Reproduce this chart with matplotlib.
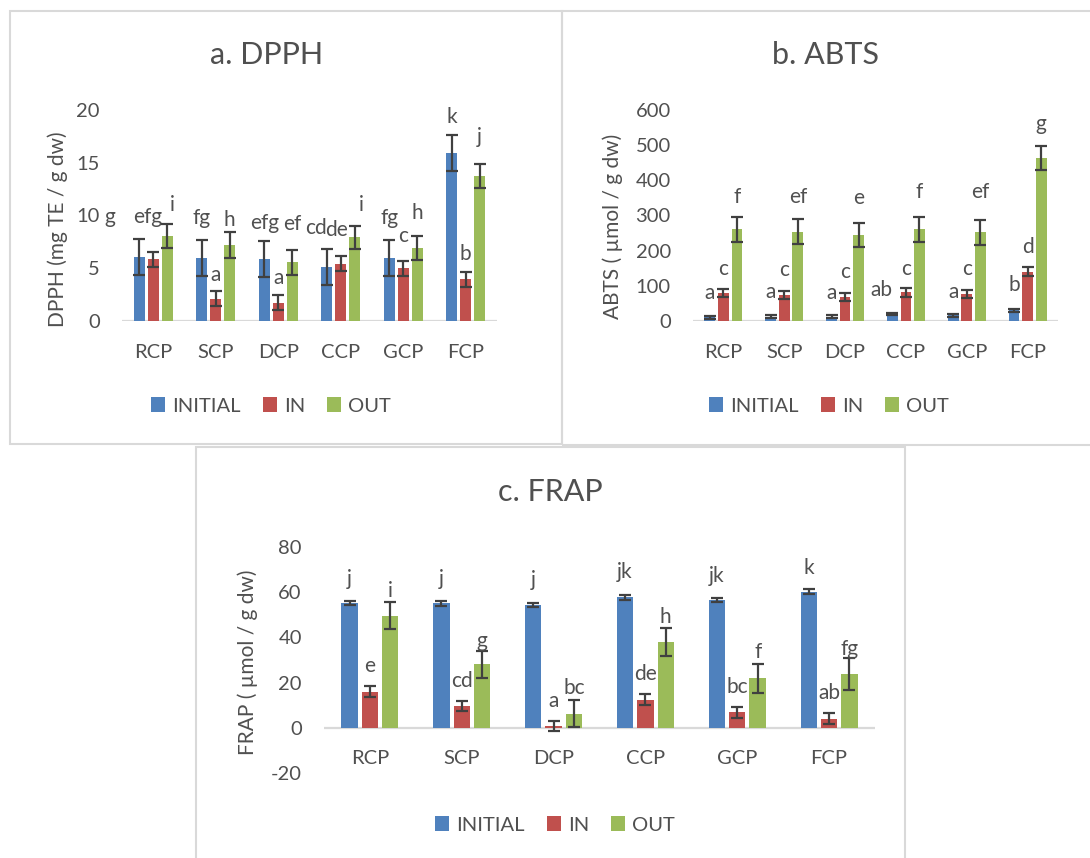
import matplotlib
matplotlib.use('Agg')
import numpy as np
import matplotlib.pyplot as plt
from matplotlib.patches import Rectangle

plt.rcParams['font.family'] = ['Lato', 'DejaVu Sans']
plt.rcParams['axes.unicode_minus'] = False

W, H = 1090, 858

categories = ['RCP', 'SCP', 'DCP', 'CCP', 'GCP', 'FCP']
series_names = ['INITIAL', 'IN', 'OUT']
colors = ['#4F81BD', '#C0504D', '#9BBB59']
TEXT = '#505050'
GRID = '#D9D9D9'

# DPPH (mg TE / g dw)
dpph_initial = [6.1, 5.95, 5.85, 5.15, 5.95, 15.95]
dpph_initial_err = [1.7, 1.7, 1.7, 1.7, 1.7, 1.7]
dpph_in = [5.85, 2.1, 1.75, 5.45, 5.0, 3.95]
dpph_in_err = [0.7, 0.7, 0.7, 0.7, 0.7, 0.7]
dpph_out = [8.05, 7.2, 5.55, 7.95, 6.9, 13.75]
dpph_out_err = [1.15, 1.2, 1.15, 1.1, 1.15, 1.15]
dpph_letters = [['g', 'efg', 'i'], ['fg', 'a', 'h'], ['efg', 'a', 'ef'],
                ['cd', 'de', 'i'], ['fg', 'c', 'h'], ['k', 'b', 'j']]

# ABTS (umol / g dw)
abts_initial = [10, 12, 12, 20, 16, 30]
abts_initial_err = [4, 4, 4, 4, 5, 5]
abts_in = [80, 74, 69, 82, 76, 140]
abts_in_err = [12, 12, 11, 13, 12, 13]
abts_out = [261, 254, 245, 261, 252, 464]
abts_out_err = [35, 35, 35, 35, 35, 35]
abts_letters = [['a', 'c', 'f'], ['a', 'c', 'ef'], ['a', 'c', 'e'],
                ['ab', 'c', 'f'], ['a', 'c', 'ef'], ['b', 'd', 'g']]

# FRAP (umol / g dw)
frap_initial = [55.2, 55.1, 54.4, 57.7, 56.6, 60.3]
frap_initial_err = [1, 1, 1, 1, 1, 1]
frap_in = [15.9, 9.6, 0.8, 12.5, 6.8, 4.0]
frap_in_err = [2.4, 2.2, 2.3, 2.4, 2.4, 2.4]
frap_out = [49.6, 28.1, 6.3, 37.9, 21.9, 23.8]
frap_out_err = [6.1, 5.9, 6.0, 6.1, 6.4, 7.0]
frap_letters = [['j', 'e', 'i'], ['j', 'cd', 'g'], ['j', 'a', 'bc'],
                ['jk', 'de', 'h'], ['jk', 'bc', 'f'], ['k', 'ab', 'fg']]

# letter offsets above the error bar top, in pixels (dx, dy) per group / series
dpph_dx = [[-30, -6, 5], [0, 0, 0], [0, 0, 0], [-11, -4, 7], [0, 0, 0], [0, 0, 0]]
dpph_dy = [[22, 35, 19], [22, 16, 12], [18, 17, 26], [21, 26, 21], [22, 25, 23], [18, 18, 27]]
abts_dx = [[0, 0, 0], [0, 0, 0], [0, 0, 0], [-11, 0, 0], [0, 0, 0], [0, 0, 0]]
abts_dy = [[23, 20, 20], [23, 21, 22], [22, 21, 25], [23, 19, 25], [22, 21, 28], [24, 20, 22]]
frap_dx = [[0, 0, 0]] * 6
frap_dy = [[22, 20, 11], [22, 20, 10], [23, 20, 12], [23, 20, 11], [22, 20, 12], [21, 20, 9]]


def px_rect(x0, y0, x1, y1):
    """Pixel box (top-left origin) to figure fraction rect."""
    return [x0 / W, 1 - y1 / H, (x1 - x0) / W, (y1 - y0) / H]


def draw_panel(fig, box, values, errors, letters, dx, dy, ylim, yticks,
               title, title_xy, ylabel, ylabel_xy, legend_xy):
    ax = fig.add_axes(px_rect(*box))
    x = np.arange(len(categories))
    step, width = 0.222, 0.178
    handles = []
    for k in range(3):
        xs = x + (k - 1) * step
        b = ax.bar(xs, values[k], width, yerr=errors[k], color=colors[k],
                   label=series_names[k], zorder=2,
                   error_kw=dict(ecolor='#404040', elinewidth=1.6,
                                 capsize=4, capthick=1.6, zorder=3))
        handles.append(b)
        for i in range(len(categories)):
            ax.annotate(letters[i][k], (xs[i], values[k][i] + errors[k][i]),
                        xytext=(dx[i][k], dy[i][k]), textcoords='offset pixels',
                        ha='center', va='center', fontsize=15, color=TEXT)
    for i, c in enumerate(categories):
        ax.annotate(c, (x[i], 0), xytext=(0, -31), textcoords='offset pixels',
                    ha='center', va='center', fontsize=14.5, color=TEXT)
    ax.axhline(0, color=GRID, lw=1.6, zorder=1)
    ax.set_xlim(-0.5, len(categories) - 0.5)
    ax.set_ylim(*ylim)
    ax.set_yticks(yticks)
    ax.set_xticks([])
    ax.tick_params(axis='y', length=0, pad=16, labelsize=14.5, labelcolor=TEXT)
    for s in ax.spines.values():
        s.set_visible(False)

    fig.text(title_xy[0] / W, 1 - title_xy[1] / H, title, ha='center',
             va='center', fontsize=22, color=TEXT)
    fig.text(ylabel_xy[0] / W, 1 - ylabel_xy[1] / H, ylabel, rotation=90,
             ha='center', va='center', fontsize=15, color=TEXT)
    ax.legend(handles=handles, loc='center', ncol=3, frameon=False,
              bbox_to_anchor=(legend_xy[0] / W, 1 - legend_xy[1] / H),
              bbox_transform=fig.transFigure, fontsize=14.5,
              handlelength=0.7, handleheight=0.7, handletextpad=0.35,
              columnspacing=1.1, labelcolor=TEXT)
    return ax


fig = plt.figure(figsize=(W / 100, H / 100), dpi=100)

# panel frames
for x0, y0, x1, y1 in [(10, 11, 562, 444), (562, 11, 1096, 445), (196, 447, 905, 870)]:
    fig.add_artist(Rectangle((x0 / W, 1 - y1 / H), (x1 - x0) / W, (y1 - y0) / H,
                             transform=fig.transFigure, fill=False,
                             edgecolor=GRID, lw=1.5))

draw_panel(fig, (122, 110, 497, 321),
           [dpph_initial, dpph_in, dpph_out],
           [dpph_initial_err, dpph_in_err, dpph_out_err],
           dpph_letters, dpph_dx, dpph_dy, (0, 20), [0, 5, 10, 15, 20],
           'a. DPPH', (267, 55), 'DPPH (mg TE / g dw)', (58, 229), (271, 406))

draw_panel(fig, (693, 110, 1058, 321),
           [abts_initial, abts_in, abts_out],
           [abts_initial_err, abts_in_err, abts_out_err],
           abts_letters, abts_dx, abts_dy, (0, 600), [0, 100, 200, 300, 400, 500, 600],
           'b. ABTS', (825, 55), 'ABTS ( µmol / g dw)', (613, 226), (829, 406))

draw_panel(fig, (324, 547, 875, 773),
           [frap_initial, frap_in, frap_out],
           [frap_initial_err, frap_in_err, frap_out_err],
           frap_letters, frap_dx, frap_dy, (-20, 80), [-20, 0, 20, 40, 60, 80],
           'c. FRAP', (550, 492), 'FRAP ( µmol / g dw)', (248, 662), (555, 825))

fig.savefig('out.png', dpi=100)
